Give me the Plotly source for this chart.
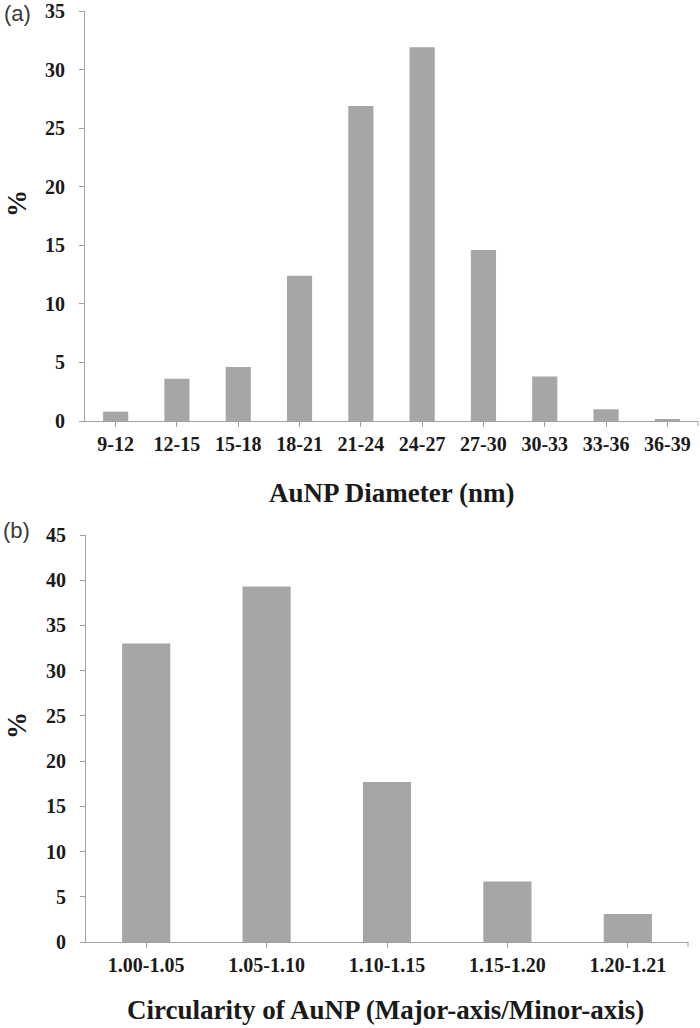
import plotly.graph_objects as go

diam_cats = ["9-12", "12-15", "15-18", "18-21", "21-24", "24-27", "27-30", "30-33", "33-36", "36-39"]
diam_vals = [0.8, 3.6, 4.6, 12.4, 26.9, 31.9, 14.6, 3.8, 1.0, 0.1]

circ_cats = ["1.00-1.05", "1.05-1.10", "1.10-1.15", "1.15-1.20", "1.20-1.21"]
circ_vals = [33.0, 39.3, 17.7, 6.7, 3.1]

BAR = "#a6a6a6"
AX = "#a0a0a0"
SERIF = "Liberation Serif, Times New Roman, serif"
tickfont = dict(family=SERIF, size=20, color="#1a1a1a", weight="bold")

W, H = 700, 1028
def py(p):
    return (H - p) / H
def px(p):
    return p / W

fig = go.Figure()
fig.add_trace(go.Bar(x=diam_cats, y=diam_vals, marker=dict(color=BAR, line_width=0),
                     width=0.41, xaxis="x", yaxis="y", showlegend=False))
fig.add_trace(go.Bar(x=circ_cats, y=circ_vals, marker=dict(color=BAR, line_width=0),
                     width=0.40, xaxis="x2", yaxis="y2", showlegend=False))

common_x = dict(showline=True, linecolor=AX, linewidth=1, ticks="outside", ticklen=5,
                tickcolor=AX, tickfont=tickfont, showgrid=False, automargin=False,
                zeroline=False, fixedrange=True, ticklabelstandoff=0)
common_y = dict(showline=True, linecolor=AX, linewidth=1, ticks="outside", ticklen=5,
                tickcolor=AX, tickfont=tickfont, showgrid=False, zeroline=False,
                automargin=False, dtick=5, fixedrange=True, ticklabelstandoff=10)

fig.update_layout(
    width=W, height=H,
    margin=dict(l=0, r=0, t=0, b=0, autoexpand=False),
    paper_bgcolor="white", plot_bgcolor="white",
    xaxis=dict(domain=[px(85), px(698)], anchor="y", **common_x),
    yaxis=dict(domain=[py(421), py(11)], anchor="x", range=[0, 35], **common_y),
    xaxis2=dict(domain=[px(86), px(688)], anchor="y2", **common_x),
    yaxis2=dict(domain=[py(942), py(535)], anchor="x2", range=[0, 45], **common_y),
)

# end tick marks at the right end of each x axis
for xe, ye in [(698, 421), (688, 942)]:
    fig.add_shape(type="line", xref="paper", yref="paper", x0=px(xe), x1=px(xe),
                  y0=py(ye), y1=py(ye + 5), line=dict(color=AX, width=1))

ann_font = dict(family=SERIF, size=27, color="#1a1a1a", weight="bold")
fig.add_annotation(text="AuNP Diameter (nm)", x=px(391), y=py(493), xref="paper", yref="paper",
                   showarrow=False, font=ann_font, xanchor="center", yanchor="middle")
fig.add_annotation(text="Circularity of AuNP (Major-axis/Minor-axis)", x=px(385), y=py(1010),
                   xref="paper", yref="paper", showarrow=False, font=ann_font,
                   xanchor="center", yanchor="middle")
pct_font = dict(family=SERIF, size=27, color="#1a1a1a", weight="bold")
fig.add_annotation(text="%", x=px(17), y=py(204), xref="paper", yref="paper", showarrow=False,
                   font=pct_font, textangle=-90, xanchor="center", yanchor="middle")
fig.add_annotation(text="%", x=px(17), y=py(726), xref="paper", yref="paper", showarrow=False,
                   font=pct_font, textangle=-90, xanchor="center", yanchor="middle")
lab_font = dict(family="Liberation Sans, Arial, sans-serif", size=22, color="#3a3a3a")
fig.add_annotation(text="(a)", x=px(2), y=py(14), xref="paper", yref="paper", showarrow=False,
                   font=lab_font, xanchor="left", yanchor="middle")
fig.add_annotation(text="(b)", x=px(1), y=py(530), xref="paper", yref="paper", showarrow=False,
                   font=lab_font, xanchor="left", yanchor="middle")

fig.write_html("out.html", config={"displayModeBar": False},
               post_script="document.body.style.margin='0px';document.body.style.padding='0px';")
